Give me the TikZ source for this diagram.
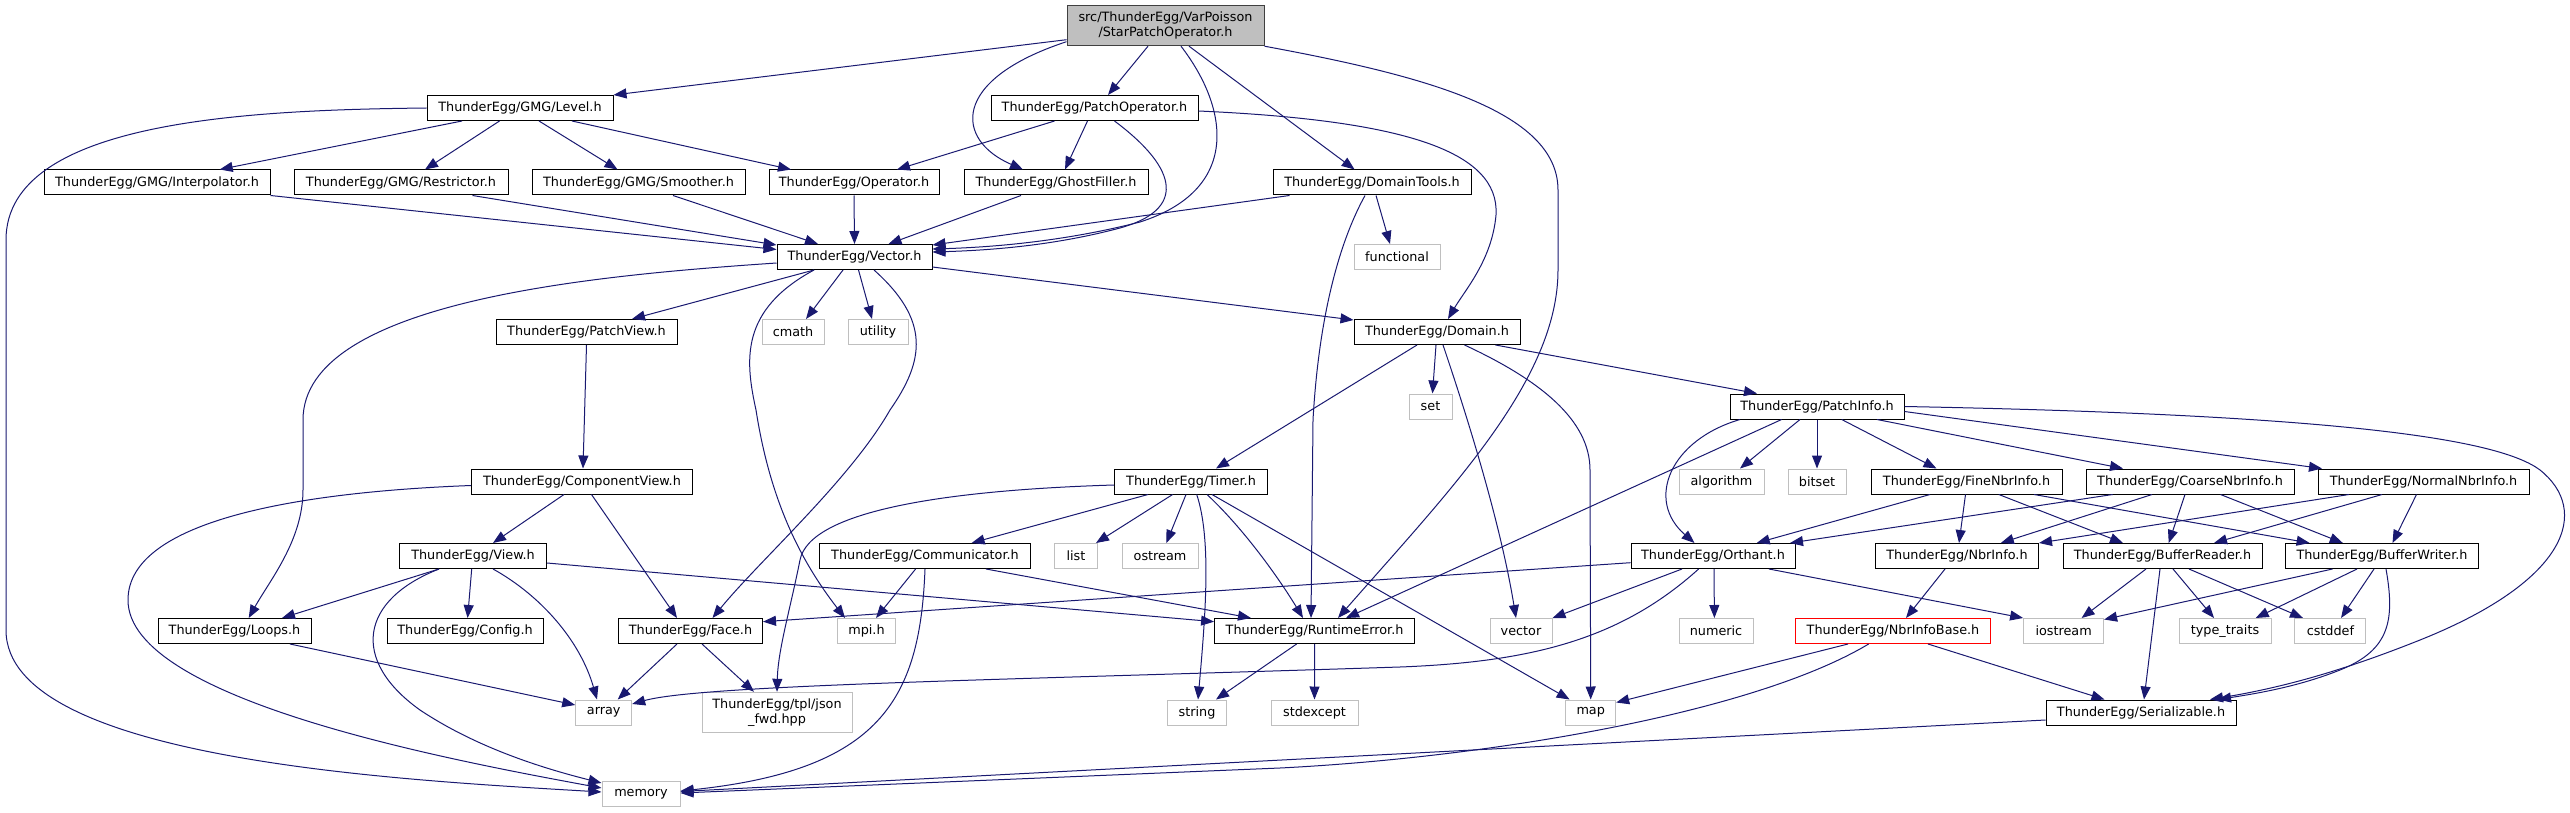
\documentclass[tikz,border=0pt]{standalone}
\usepackage{fontspec}
\setmainfont{DejaVu Sans}
\usetikzlibrary{arrows.meta}
\definecolor{edgeblue}{HTML}{191970}
\definecolor{sysgray}{HTML}{BFBFBF}
\definecolor{rootfill}{HTML}{BFBFBF}
\definecolor{rootdraw}{HTML}{404040}
\definecolor{badred}{HTML}{FF0000}
\begin{document}
\begin{tikzpicture}[x=1pt,y=-1pt,
  nbox/.style={draw, line width=1pt, inner sep=0pt, minimum height=25pt, font=\fontsize{12.8}{15}\selectfont, align=center},
  hdr/.style={nbox, draw=black},
  sys/.style={nbox, draw=sysgray},
  rootbox/.style={nbox, fill=rootfill, draw=rootdraw, minimum height=40pt},
  redbox/.style={nbox, draw=badred},
  conn/.style={draw=edgeblue, line width=1pt, -{Triangle[length=13pt,width=10pt]}}
]
\useasboundingbox (0,0) rectangle (2570,813);

\node[rootbox, minimum width=197pt] (star) at (1165.5,25.7) {src/ThunderEgg/VarPoisson\\/StarPatchOperator.h};
\node[hdr, minimum width=186pt] (level) at (520,108) {ThunderEgg/GMG/Level.h};
\node[hdr, minimum width=207pt] (patchop) at (1094.5,108) {ThunderEgg/PatchOperator.h};
\node[hdr, minimum width=226pt] (interp) at (157,182.5) {ThunderEgg/GMG/Interpolator.h};
\node[hdr, minimum width=214pt] (restr) at (401,182.5) {ThunderEgg/GMG/Restrictor.h};
\node[hdr, minimum width=213pt] (smooth) at (638.5,182.5) {ThunderEgg/GMG/Smoother.h};
\node[hdr, minimum width=170pt] (oper) at (854,182.5) {ThunderEgg/Operator.h};
\node[hdr, minimum width=184pt] (ghost) at (1056,182.5) {ThunderEgg/GhostFiller.h};
\node[hdr, minimum width=198pt] (domtools) at (1372,182.5) {ThunderEgg/DomainTools.h};
\node[hdr, minimum width=155pt] (vector) at (854.5,257) {ThunderEgg/Vector.h};
\node[sys, minimum width=86pt] (functional) at (1397,257) {functional};
\node[hdr, minimum width=181pt] (patchview) at (586.5,332) {ThunderEgg/PatchView.h};
\node[sys, minimum width=62pt] (cmath) at (793,332) {cmath};
\node[sys, minimum width=60pt] (utility) at (878,332) {utility};
\node[hdr, minimum width=166pt] (domain) at (1437,332) {ThunderEgg/Domain.h};
\node[sys, minimum width=43pt] (set) at (1430.5,406.5) {set};
\node[hdr, minimum width=174pt] (patchinfo) at (1817,406.5) {ThunderEgg/PatchInfo.h};
\node[hdr, minimum width=221pt] (compview) at (582,481.5) {ThunderEgg/ComponentView.h};
\node[hdr, minimum width=153pt] (timer) at (1191,481.5) {ThunderEgg/Timer.h};
\node[sys, minimum width=85pt] (algorithm) at (1721.5,481.5) {algorithm};
\node[sys, minimum width=58pt] (bitset) at (1817,481.5) {bitset};
\node[hdr, minimum width=191pt] (finenbr) at (1966.5,481.5) {ThunderEgg/FineNbrInfo.h};
\node[hdr, minimum width=208pt] (coarsenbr) at (2190,481.5) {ThunderEgg/CoarseNbrInfo.h};
\node[hdr, minimum width=211pt] (normalnbr) at (2423.5,481.5) {ThunderEgg/NormalNbrInfo.h};
\node[hdr, minimum width=147pt] (view) at (473,556) {ThunderEgg/View.h};
\node[hdr, minimum width=211pt] (comm) at (925,556) {ThunderEgg/Communicator.h};
\node[sys, minimum width=43pt] (list) at (1076,556) {list};
\node[sys, minimum width=76pt] (ostream) at (1160,556) {ostream};
\node[hdr, minimum width=164pt] (orthant) at (1713,556) {ThunderEgg/Orthant.h};
\node[hdr, minimum width=163pt] (nbrinfo) at (1957,556) {ThunderEgg/NbrInfo.h};
\node[hdr, minimum width=199pt] (bufreader) at (2162.5,556) {ThunderEgg/BufferReader.h};
\node[hdr, minimum width=193pt] (bufwriter) at (2382,556) {ThunderEgg/BufferWriter.h};
\node[hdr, minimum width=153pt] (loops) at (234.5,631) {ThunderEgg/Loops.h};
\node[hdr, minimum width=156pt] (config) at (465,631) {ThunderEgg/Config.h};
\node[hdr, minimum width=144pt] (face) at (690.5,631) {ThunderEgg/Face.h};
\node[sys, minimum width=58pt] (mpi) at (866.5,631) {mpi.h};
\node[hdr, minimum width=200pt] (runtime) at (1314.6,631) {ThunderEgg/RuntimeError.h};
\node[sys, minimum width=62pt] (vectorS) at (1521,631) {vector};
\node[sys, minimum width=74pt] (numeric) at (1716,631) {numeric};
\node[redbox, minimum width=195pt] (nbrbase) at (1893,631) {ThunderEgg/NbrInfoBase.h};
\node[sys, minimum width=80pt] (iostream) at (2063.6,631) {iostream};
\node[sys, minimum width=92pt] (typetraits) at (2225,631) {type\_traits};
\node[sys, minimum width=71pt] (cstddef) at (2330.4,631) {cstddef};
\node[sys, minimum width=56pt] (array) at (603.7,712.5) {array};
\node[sys, minimum width=150pt, minimum height=40pt] (json) at (777,712.3) {ThunderEgg/tpl/json\\\_fwd.hpp};
\node[sys, minimum width=59pt] (string) at (1197,712.5) {string};
\node[sys, minimum width=87pt] (stdexcept) at (1314.5,712.5) {stdexcept};
\node[sys, minimum width=50pt] (map) at (1590.7,712.5) {map};
\node[hdr, minimum width=190pt] (serial) at (2141,712.5) {ThunderEgg/Serializable.h};
\node[sys, minimum width=78pt] (memory) at (641,794) {memory};

% star
\draw[conn] ([yshift=-14pt]star.west) -- (level.north east);
\draw[conn] ([xshift=-17.5pt]star.south) -- ([xshift=13.5pt]patchop.north);
\draw[conn] ([yshift=-16pt]star.west) .. controls (950,80) and (955,140) .. ([xshift=-33pt]ghost.north);
\draw[conn] ([xshift=15.5pt]star.south) .. controls (1230,110) and (1240,190) .. (1140,222) .. controls (1070,240) and (1000,247) .. ([yshift=8pt]vector.east);
\draw[conn] ([xshift=23.5pt]star.south) -- ([xshift=-17.4pt]domtools.north);
\draw[conn] (star.south east) .. controls (1420,75) and (1558,110) .. (1558,190) -- (1558,270) .. controls (1558,380) and (1450,490) .. ([xshift=23.4pt]runtime.north);
% level
\draw[conn] (level.west) .. controls (250,110) and (6,120) .. (6,240) -- (6,630) .. controls (6,760) and (400,780) .. ([yshift=2pt]memory.west);
\draw[conn] ([xshift=-58pt]level.south) -- ([xshift=62.7pt]interp.north);
\draw[conn] ([xshift=-20.5pt]level.south) -- ([xshift=24pt]restr.north);
\draw[conn] ([xshift=19pt]level.south) -- ([xshift=-21pt]smooth.north);
\draw[conn] ([xshift=52pt]level.south) -- ([xshift=-63pt]oper.north);
% to vector
\draw[conn] (interp.south east) -- ([yshift=-5.5pt]vector.north west);
\draw[conn] ([xshift=71.5pt]restr.south) -- ([yshift=-1pt]vector.north west);
\draw[conn] ([xshift=34.5pt]smooth.south) -- ([xshift=-36.5pt]vector.north);
\draw[conn] (oper.south) -- (vector.north);
\draw[conn] ([xshift=-35pt]ghost.south) -- ([xshift=34pt]vector.north);
% patchop
\draw[conn] ([xshift=-40pt]patchop.south) -- ([xshift=43pt]oper.north);
\draw[conn] ([xshift=-7pt]patchop.south) -- ([xshift=9pt]ghost.north);
\draw[conn] ([xshift=20pt]patchop.south) .. controls (1180,170) and (1185,210) .. (1120,228) .. controls (1060,244) and (1000,250) .. ([yshift=5pt]vector.east);
\draw[conn] ([yshift=-3pt]patchop.east) .. controls (1400,120) and (1500,150) .. (1496,215) .. controls (1492,260) and (1465,290) .. ([xshift=11pt]domain.north);
% domtools
\draw[conn] ([xshift=17pt]domtools.south west) -- ([yshift=12pt]vector.east);
\draw[conn] ([xshift=4pt]domtools.south) -- ([xshift=-7pt]functional.north);
\draw[conn] ([xshift=-7pt]domtools.south) .. controls (1335,250) and (1318,330) .. (1313,420) -- ([xshift=-3.6pt]runtime.north);
% vector
\draw[conn] ([xshift=-40.5pt]vector.south) -- ([xshift=45.5pt]patchview.north);
\draw[conn] ([xshift=-11.5pt]vector.south) -- ([xshift=13pt]cmath.north);
\draw[conn] ([xshift=4pt]vector.south) -- ([xshift=-6pt]utility.north);
\draw[conn] ([yshift=-10pt]vector.east) -- ([yshift=-1pt]domain.north west);
\draw[conn] ([yshift=-6pt]vector.west) .. controls (600,275) and (303,300) .. (303,420) -- (303,490) .. controls (303,540) and (270,580) .. ([xshift=14.2pt]loops.north);
\draw[conn] ([xshift=-40.5pt]vector.south) .. controls (740,310) and (745,360) .. (756,410) .. controls (770,500) and (800,560) .. ([xshift=-21.5pt]mpi.north);
\draw[conn] ([xshift=19.5pt]vector.south) .. controls (930,320) and (925,360) .. (890,410) .. controls (850,480) and (760,560) .. ([xshift=22pt]face.north);
% patchview / compview
\draw[conn] (patchview.south) -- ([xshift=1pt]compview.north);
\draw[conn] ([yshift=-4pt]compview.west) .. controls (300,492) and (128,520) .. (128,600) .. controls (128,700) and (450,760) .. ([yshift=6pt]memory.west);
\draw[conn] ([xshift=-18pt]compview.south) -- ([xshift=20pt]view.north);
\draw[conn] ([xshift=9.5pt]compview.south) -- ([xshift=-13.5pt]face.north);
% view
\draw[conn] ([xshift=-34pt]view.south) -- ([xshift=47.5pt]loops.north);
\draw[conn] ([xshift=-1.3pt]view.south) -- ([xshift=2.6pt]config.north);
\draw[conn] ([xshift=20pt]view.south) .. controls (540,595) and (580,640) .. ([xshift=-6.7pt]array.north);
\draw[conn] ([xshift=-34pt]view.south) .. controls (360,600) and (350,660) .. (420,710) .. controls (480,750) and (550,770) .. ([yshift=11pt]memory.west);
\draw[conn] ([yshift=-7pt]view.east) -- ([yshift=9.3pt]runtime.west);
% loops / face
\draw[conn] ([xshift=55.5pt]loops.south) -- ([yshift=7.5pt]array.west);
\draw[conn] ([xshift=-13.5pt]face.south) -- ([xshift=14pt]array.north);
\draw[conn] ([xshift=11.5pt]face.south) -- ([xshift=-23pt]json.north);
% domain
\draw[conn] ([xshift=-1pt]domain.south) -- ([xshift=2pt]set.north);
\draw[conn] ([xshift=-20pt]domain.south) -- ([xshift=25pt]timer.north);
\draw[conn] ([xshift=6pt]domain.south) .. controls (1465,410) and (1500,520) .. ([xshift=-5pt]vectorS.north);
\draw[conn] ([xshift=27.5pt]domain.south) .. controls (1540,380) and (1590,420) .. (1590,470) -- (map.north);
\draw[conn] ([xshift=58.5pt]domain.south) -- ([xshift=-60pt]patchinfo.north);
% timer
\draw[conn] ([yshift=-3.5pt]timer.west) .. controls (950,490) and (810,510) .. (800,560) .. controls (790,610) and (778,650) .. (json.north);
\draw[conn] ([xshift=-43pt]timer.south) -- ([xshift=46.6pt]comm.north);
\draw[conn] ([xshift=-18.4pt]timer.south) -- ([xshift=20pt]list.north);
\draw[conn] ([xshift=-5pt]timer.south) -- ([xshift=6.4pt]ostream.north);
\draw[conn] ([xshift=5.7pt]timer.south) .. controls (1212,540) and (1205,620) .. ([xshift=1pt]string.north);
\draw[conn] ([xshift=16pt]timer.south) .. controls (1245,530) and (1280,580) .. ([xshift=-11.6pt]runtime.north);
\draw[conn] ([xshift=21pt]timer.south) -- ([xshift=4.4pt]map.north west);
% comm
\draw[conn] ([xshift=-9.4pt]comm.south) -- ([xshift=9.5pt]mpi.north);
\draw[conn] (comm.south) .. controls (920,700) and (880,770) .. ([yshift=3pt]memory.east);
\draw[conn] ([xshift=61pt]comm.south) -- ([xshift=-63.6pt]runtime.north);
% runtime
\draw[conn] ([xshift=-18pt]runtime.south) -- ([xshift=19pt]string.north);
\draw[conn] (runtime.south) -- (stdexcept.north);
% patchinfo
\draw[conn] ([xshift=-35.4pt]patchinfo.south) -- ([xshift=31.4pt]runtime.north);
\draw[conn] ([xshift=-77pt]patchinfo.south) .. controls (1670,440) and (1645,500) .. ([xshift=-18.5pt]orthant.north);
\draw[conn] ([xshift=-17pt]patchinfo.south) -- ([xshift=18.5pt]algorithm.north);
\draw[conn] (patchinfo.south) -- (bitset.north);
\draw[conn] ([xshift=24.7pt]patchinfo.south) -- ([xshift=-30pt]finenbr.north);
\draw[conn] ([xshift=60pt]patchinfo.south) -- ([xshift=-67pt]coarsenbr.north);
\draw[conn] ([yshift=-5pt]patchinfo.east) -- ([xshift=-101.5pt]normalnbr.north);
\draw[conn] (patchinfo.east) .. controls (2350,415) and (2500,440) .. (2540,470) .. controls (2590,510) and (2570,580) .. (2420,640) .. controls (2340,672) and (2280,688) .. ([xshift=69pt]serial.north);
% fine
\draw[conn] ([xshift=-36.5pt]finenbr.south) -- ([xshift=43.7pt]orthant.north);
\draw[conn] ([xshift=-1pt]finenbr.south) -- ([xshift=2pt]nbrinfo.north);
\draw[conn] ([xshift=32.3pt]finenbr.south) -- ([xshift=-39.5pt]bufreader.north);
\draw[conn] ([xshift=67.5pt]finenbr.south) -- ([xshift=-72.4pt]bufwriter.north);
% coarse
\draw[conn] ([xshift=-77.3pt]coarsenbr.south) -- ([xshift=77pt]orthant.north);
\draw[conn] ([xshift=-38pt]coarsenbr.south) -- ([xshift=43.8pt]nbrinfo.north);
\draw[conn] ([xshift=-5pt]coarsenbr.south) -- ([xshift=6.2pt]bufreader.north);
\draw[conn] ([xshift=30.5pt]coarsenbr.south) -- ([xshift=-39.2pt]bufwriter.north);
% normal
\draw[conn] ([xshift=-74.5pt]normalnbr.south) -- (nbrinfo.north east);
\draw[conn] ([xshift=-41.5pt]normalnbr.south) -- ([xshift=51.5pt]bufreader.north);
\draw[conn] ([xshift=-7pt]normalnbr.south) -- ([xshift=10.5pt]bufwriter.north);
% orthant
\draw[conn] ([yshift=-6.7pt]orthant.west) -- ([yshift=9.3pt]face.east);
\draw[conn] ([xshift=-31pt]orthant.south) -- (vectorS.north east);
\draw[conn] ([xshift=1pt]orthant.south) -- ([xshift=-1.6pt]numeric.north);
\draw[conn] ([xshift=56pt]orthant.south) -- (iostream.north west);
\draw[conn] ([xshift=-14.4pt]orthant.south) .. controls (1620,640) and (1530,662) .. (1400,667) .. controls (1000,680) and (700,685) .. ([yshift=8.5pt]array.east);
% nbrinfo / nbrbase
\draw[conn] ([xshift=-12pt]nbrinfo.south) -- ([xshift=13pt]nbrbase.north);
\draw[conn] ([xshift=-45pt]nbrbase.south) -- ([yshift=-3pt]map.north east);
\draw[conn] ([xshift=-24.4pt]nbrbase.south) .. controls (1750,715) and (1480,758) .. (1280,768) -- ([yshift=1pt]memory.east);
\draw[conn] ([xshift=35pt]nbrbase.south) -- ([xshift=-36.5pt]serial.north);
% bufreader
\draw[conn] ([xshift=-16.5pt]bufreader.south) -- ([xshift=18pt]iostream.north);
\draw[conn] ([xshift=-2.5pt]bufreader.south) -- ([xshift=3pt]serial.north);
\draw[conn] ([xshift=10.5pt]bufreader.south) -- ([xshift=-11pt]typetraits.north);
\draw[conn] ([xshift=26.5pt]bufreader.south) -- ([xshift=-27.4pt]cstddef.north);
% bufwriter
\draw[conn] ([xshift=-49.5pt]bufwriter.south) -- ([yshift=-1.5pt]iostream.north east);
\draw[conn] ([xshift=-25pt]bufwriter.south) -- ([xshift=30.7pt]typetraits.north);
\draw[conn] ([xshift=-8pt]bufwriter.south) -- ([xshift=10.6pt]cstddef.north);
\draw[conn] ([xshift=4pt]bufwriter.south) .. controls (2395,620) and (2390,650) .. (2340,670) .. controls (2300,686) and (2260,693) .. ([xshift=77pt]serial.north);
% serial
\draw[conn] ([yshift=-7.5pt]serial.west) -- ([yshift=2.5pt]memory.east);
\end{tikzpicture}
\end{document}
